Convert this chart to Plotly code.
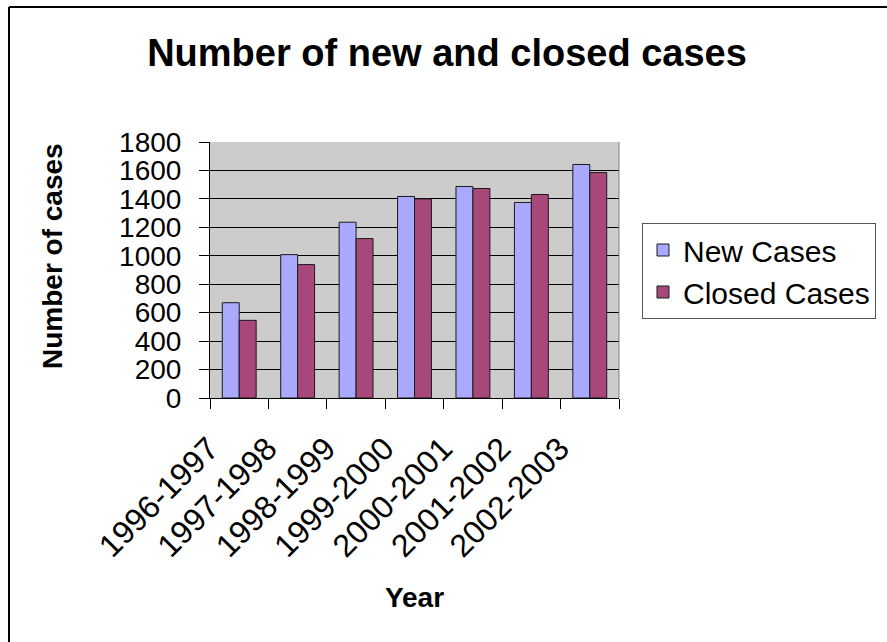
import plotly.graph_objects as go

# Annual case counts by fiscal year
years = ["1996-1997", "1997-1998", "1998-1999", "1999-2000",
         "2000-2001", "2001-2002", "2002-2003"]
new_cases = [670, 1008, 1236, 1417, 1487, 1375, 1642]
closed_cases = [546, 938, 1121, 1400, 1473, 1431, 1586]
y_ticks = [0, 200, 400, 600, 800, 1000, 1200, 1400, 1600, 1800]

W, H = 887, 642
L, R, T, B = 210, 268, 142, 244
PW, PH = W - L - R, H - T - B

FONT = "Liberation Sans, Arial, sans-serif"


def fx(px):
    return (px - L) / PW


def fy(py):
    return 1 - (py - T) / PH


fig = go.Figure()
fig.add_trace(go.Bar(
    name="New Cases", x=years, y=new_cases,
    marker=dict(color="#A9A9FF", line=dict(color="#1a1a1a", width=1)),
))
fig.add_trace(go.Bar(
    name="Closed Cases", x=years, y=closed_cases,
    marker=dict(color="#A8477A", line=dict(color="#1a1a1a", width=1)),
))

fig.update_layout(
    width=W, height=H,
    margin=dict(l=L, r=R, t=T, b=B, autoexpand=False),
    paper_bgcolor="white",
    plot_bgcolor="#CCCCCC",
    barmode="group",
    bargap=0.42,
    bargroupgap=0,
    font=dict(family=FONT, color="black"),
    title=dict(
        text="<b>Number of new and closed cases</b>",
        font=dict(size=38, family=FONT, color="black"),
        x=447 / W, xref="container", xanchor="center",
        y=1 - 53 / H, yref="container", yanchor="middle",
    ),
    legend=dict(
        x=fx(642), y=fy(223), xanchor="left", yanchor="top",
        bgcolor="white", bordercolor="#555555", borderwidth=1,
        font=dict(size=30, family=FONT, color="black"),
        tracegroupgap=0,
    ),
    showlegend=True,
)

fig.update_xaxes(
    type="category",
    tickangle=-45,
    tickfont=dict(size=32, family=FONT, color="black"),
    tickson="boundaries",
    ticks="outside", ticklen=10, tickcolor="black", tickwidth=1,
    showline=True, linecolor="black", linewidth=1,
    showgrid=False,
    ticklabelshift=-30,
    ticklabelstandoff=18,
    title=dict(text="<b>Year</b>", font=dict(size=28, family=FONT, color="black"),
               standoff=24),
)

fig.update_yaxes(
    range=[0, 1800],
    tickvals=y_ticks,
    tickfont=dict(size=28, family=FONT, color="black"),
    ticks="outside", ticklen=10, tickcolor="black", tickwidth=1,
    showline=True, linecolor="black", linewidth=1,
    showgrid=True, gridcolor="black", gridwidth=1,
    zeroline=False,
    ticklabelstandoff=12,
)

# Vertical axis title, centred a little above the plot middle
fig.add_annotation(
    text="<b>Number of cases</b>", textangle=-90,
    xref="paper", yref="paper", x=fx(52), y=fy(256),
    xanchor="center", yanchor="middle", showarrow=False,
    font=dict(size=28, family=FONT, color="black"),
)

# Outer chart frame (left and top edges)
fig.add_shape(type="line", xref="paper", yref="paper",
              x0=fx(9), y0=fy(7), x1=fx(9), y1=fy(642),
              line=dict(color="black", width=2))
fig.add_shape(type="line", xref="paper", yref="paper",
              x0=fx(9), y0=fy(7), x1=fx(887), y1=fy(7),
              line=dict(color="black", width=2))
# Right edge of plot area
fig.add_shape(type="line", xref="paper", yref="paper",
              x0=1, y0=0, x1=1, y1=1,
              line=dict(color="#808080", width=1))

fig.write_html("out.html")
